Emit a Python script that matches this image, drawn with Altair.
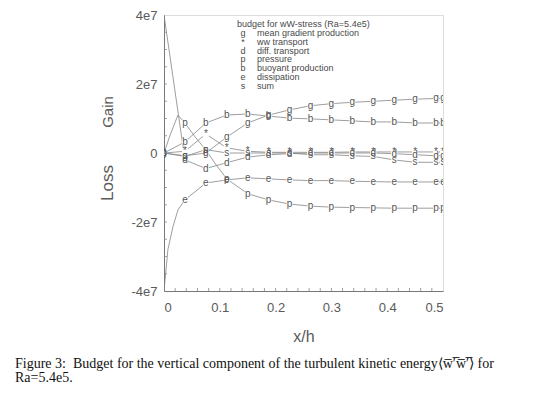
import altair as alt
import pandas as pd

# x/h positions of the plotted samples (markers)
X = [0, 0.0375, 0.075, 0.1125, 0.15, 0.1875, 0.225, 0.2625, 0.3, 0.3375, 0.375, 0.4125, 0.45, 0.4875, 0.5]

# budget terms, in units of 1e7
g_vals = [0.0, -0.08, 0.0, 0.46, 0.87, 1.10, 1.25, 1.37, 1.43, 1.47, 1.50, 1.53, 1.56, 1.58, 1.59]
w_vals = [0.0, 0.05, 0.55, 0.15, 0.05, 0.02, 0.02, 0.02, 0.02, 0.03, 0.03, 0.03, 0.03, 0.03, 0.03]
d_vals = [4.0, -0.2, -0.45, -0.28, -0.12, -0.05, -0.02, 0.0, 0.0, 0.0, 0.0, -0.02, -0.05, -0.08, -0.08]
p_vals = [0.0, 0.87, 0.09, -0.75, -1.18, -1.36, -1.48, -1.54, -1.57, -1.58, -1.59, -1.60, -1.60, -1.60, -1.60]
b_vals = [0.0, 0.32, 0.87, 1.10, 1.13, 1.07, 1.01, 0.99, 0.96, 0.93, 0.90, 0.90, 0.87, 0.87, 0.87]
e_vals = [-4.0, -1.36, -0.87, -0.78, -0.72, -0.75, -0.78, -0.80, -0.80, -0.82, -0.83, -0.84, -0.84, -0.84, -0.84]
s_vals = [0.0, -0.1, 0.1, 0.0, 0.0, 0.0, 0.0, -0.05, -0.05, -0.08, -0.1, -0.2, -0.27, -0.27, -0.27]

# extra curve samples near the wall (no marker drawn)
p_extra_x = [0.011, 0.025, 0.056, 0.091]
p_extra_y = [0.52, 1.10, 0.46, -0.29]
e_extra_x = [0.007, 0.016, 0.025]
e_extra_y = [-2.80, -2.14, -1.65]

symbols = ["g", "*", "d", "p", "b", "e", "s"]
labels = ["mean gradient production", "ww transport", "diff. transport", "pressure",
          "buoyant production", "dissipation", "sum"]
legend_title = "budget for wW-stress (Ra=5.4e5)"

x_ticks = [0, 0.1, 0.2, 0.3, 0.4, 0.5]
y_ticks = [-4, -2, 0, 2, 4]
x_minor = [i * 0.02 for i in range(1, 25)]
y_minor = [-4 + i * 0.5 for i in range(1, 16)]

caption1 = "Figure 3:\u2002Budget for the vertical component of the turbulent kinetic energy\u27e8w\u0305\u2032\u0305w\u0305\u2032\u0305\u27e9 for"
caption2 = "Ra=5.4e5."

series = {"g": g_vals, "*": w_vals, "d": d_vals, "p": p_vals, "b": b_vals, "e": e_vals, "s": s_vals}

rows = []
for k, vals in series.items():
    for x, y in zip(X, vals):
        rows.append({"series": k, "x": x, "y": y, "marker": abs(y) < 3.9})
for x, y in zip(p_extra_x, p_extra_y):
    rows.append({"series": "p", "x": x, "y": y, "marker": False})
for x, y in zip(e_extra_x, e_extra_y):
    rows.append({"series": "e", "x": x, "y": y, "marker": False})
df = pd.DataFrame(rows).sort_values(["series", "x"])
mk = df[df["marker"]]

W, H = 279, 276
xs = alt.Scale(domain=[0, 0.5], nice=False)
ys = alt.Scale(domain=[-4, 4], nice=False)
FONT = "Liberation Sans"
GREY = "#5a5a5a"

base = alt.Chart(df)

lines = base.mark_line(color="#858585", strokeWidth=0.8, clip=True).encode(
    x=alt.X("x:Q", scale=xs,
            axis=alt.Axis(values=x_ticks, format=".1~f", title="x/h", ticks=False,
                          grid=False, labelFont=FONT, labelFontSize=13, labelColor=GREY,
                          labelPadding=10, titleFont=FONT, titleFontSize=16,
                          titleFontWeight="normal", titleColor=GREY, titlePadding=14,
                          domainColor="#777777")),
    y=alt.Y("y:Q", scale=ys,
            axis=alt.Axis(values=y_ticks, labelExpr="datum.value == 0 ? '0' : datum.value + 'e7'",
                          title=None, ticks=False, grid=False, labelFont=FONT,
                          labelFontSize=13, labelColor=GREY, labelPadding=7,
                          domainColor="#777777")),
    detail="series:N",
)

bg = alt.Chart(mk).mark_square(color="white", opacity=1, size=36, clip=True).encode(
    x=alt.X("x:Q", scale=xs), y=alt.Y("y:Q", scale=ys)
)
marks = alt.Chart(mk).mark_text(font=FONT, fontSize=10, color="#555555",
                                baseline="middle", align="center", clip=True).encode(
    x=alt.X("x:Q", scale=xs), y=alt.Y("y:Q", scale=ys), text="series:N"
)

xt = alt.Chart(pd.DataFrame({"x": x_minor})).mark_rule(color="#888888", strokeWidth=0.8).encode(
    x=alt.X("x:Q", scale=xs), y=alt.value(H - 3), y2=alt.value(H)
)
yt = alt.Chart(pd.DataFrame({"y": y_minor})).mark_rule(color="#888888", strokeWidth=0.8).encode(
    y=alt.Y("y:Q", scale=ys), x=alt.value(0), x2=alt.value(3)
)

leg = pd.DataFrame({"sym": symbols, "lab": labels,
                    "py": [18 + 8.8 * i for i in range(len(symbols))]})
leg_sym = alt.Chart(leg).mark_text(font=FONT, fontSize=9, color="#4a4a4a", align="center",
                                   baseline="middle").encode(
    x=alt.value(79), y=alt.Y("py:Q", scale=None), text="sym:N")
leg_lab = alt.Chart(leg).mark_text(font=FONT, fontSize=9, color="#4a4a4a", align="left",
                                   baseline="middle").encode(
    x=alt.value(93), y=alt.Y("py:Q", scale=None), text="lab:N")
leg_title = alt.Chart(pd.DataFrame({"t": [legend_title]})).mark_text(
    font=FONT, fontSize=9, color="#4a4a4a", align="left", baseline="middle").encode(
    x=alt.value(73), y=alt.value(9), text="t:N")

ttl = pd.DataFrame({"t": ["Gain", "Loss"], "py": [97, 168], "fs": [15, 17]})
ytitle = alt.Chart(ttl).mark_text(font=FONT, color=GREY, angle=270, align="center",
                                  baseline="middle").encode(
    x=alt.value(-56), y=alt.Y("py:Q", scale=None), text="t:N",
    size=alt.Size("fs:Q", scale=None, legend=None))

cap = pd.DataFrame({"t": [caption1, caption2], "py": [353, 367]})
caption = alt.Chart(cap).mark_text(font="Liberation Serif", fontSize=14, color="#111111",
                                   align="left", baseline="alphabetic").encode(
    x=alt.value(-149), y=alt.Y("py:Q", scale=None), text="t:N")

chart = alt.layer(lines, bg, marks, xt, yt, leg_sym, leg_lab, leg_title, ytitle, caption).properties(
    width=W, height=H,
    autosize=alt.AutoSizeParams(type="none"),
    padding={"left": 156, "top": 7, "right": 96, "bottom": 99},
).configure_view(stroke="#777777", strokeWidth=1).configure(background="white")

chart.save("out.html", embed_options={"renderer": "svg", "actions": False})
